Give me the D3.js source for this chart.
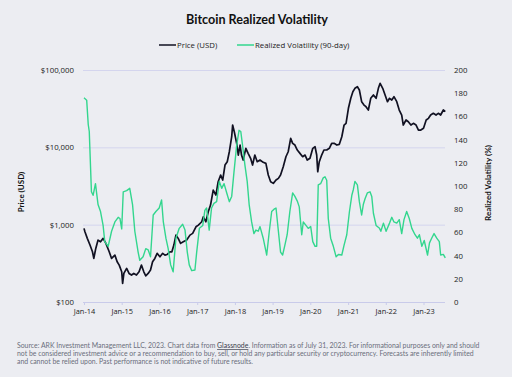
<!DOCTYPE html>
<html>
<head>
<meta charset="utf-8">
<script src="https://cdn.jsdelivr.net/npm/d3@7"></script>
<style>
  body { margin: 0; background: #ecedf2; }
  svg { display: block; font-family: "Open Sans", Lato, sans-serif; }
</style>
</head>
<body>
<script>
const priceDates = ["2014-01-01","2014-01-10","2014-02-02","2014-02-28","2014-03-24","2014-04-06","2014-04-25","2014-05-17","2014-06-10","2014-07-05","2014-08-01","2014-09-02","2014-09-25","2014-10-27","2014-11-18","2014-12-08","2015-01-01","2015-01-10","2015-01-22","2015-02-18","2015-03-13","2015-04-06","2015-04-28","2015-05-24","2015-06-18","2015-07-11","2015-08-03","2015-08-22","2015-09-14","2015-10-07","2015-10-27","2015-11-18","2015-12-10","2016-01-06","2016-02-02","2016-02-24","2016-03-16","2016-04-12","2016-05-01","2016-05-20","2016-06-09","2016-07-01","2016-07-24","2016-08-19","2016-09-21","2016-10-23","2016-11-18","2016-12-20","2017-01-12","2017-02-14","2017-03-01","2017-03-26","2017-04-18","2017-05-10","2017-06-05","2017-07-01","2017-07-23","2017-08-16","2017-09-05","2017-09-27","2017-10-19","2017-11-08","2017-12-01","2017-12-10","2017-12-26","2018-01-18","2018-02-03","2018-02-20","2018-03-06","2018-03-22","2018-04-17","2018-05-09","2018-06-02","2018-06-21","2018-07-13","2018-08-05","2018-09-01","2018-10-02","2018-10-28","2018-11-20","2018-12-13","2019-01-08","2019-02-03","2019-02-26","2019-03-19","2019-04-14","2019-05-10","2019-06-01","2019-06-25","2019-07-14","2019-08-05","2019-08-28","2019-09-23","2019-10-19","2019-11-11","2019-12-03","2019-12-29","2020-01-25","2020-02-16","2020-03-03","2020-03-13","2020-03-28","2020-04-20","2020-05-12","2020-06-08","2020-07-03","2020-07-26","2020-08-18","2020-09-14","2020-10-08","2020-11-01","2020-11-23","2020-12-12","2021-01-04","2021-01-27","2021-02-16","2021-03-08","2021-04-01","2021-04-20","2021-05-12","2021-06-04","2021-06-23","2021-07-16","2021-08-08","2021-09-03","2021-09-29","2021-10-21","2021-11-07","2021-12-02","2021-12-25","2022-01-17","2022-02-06","2022-02-28","2022-03-21","2022-04-17","2022-05-11","2022-06-04","2022-06-19","2022-07-16","2022-08-07","2022-09-01","2022-09-25","2022-10-21","2022-11-13","2022-12-06","2023-01-01","2023-01-27","2023-02-18","2023-03-11","2023-04-06","2023-05-02","2023-05-24","2023-06-16","2023-07-12","2023-07-31"]
const priceValues = [895,809,665,545,446,366,493,632,601,665,573,446,366,404,331,300,246,174,234,272,234,223,234,223,246,300,246,218,234,259,331,366,426,384,426,404,412,446,446,545,733,665,573,601,632,733,771,939,988,1091,1265,1091,1468,1793,2803,2415,3589,4383,3776,5902,6516,8770,13710,19430,15910,11270,7950,10710,7950,6850,9710,8360,7210,5902,7950,6516,6850,6400,6210,4383,3589,3420,3776,3970,4383,5610,7560,8770,13070,11270,10710,9230,8360,7560,7950,6850,7210,9710,10180,7950,4830,6516,7950,9230,9230,9710,11270,11270,10710,10930,13710,19430,20430,31950,43040,52400,57960,60800,55100,38900,35250,33500,30380,43040,47500,43040,57960,67300,57960,47500,38900,43040,40900,45150,38900,30380,26170,19430,22560,21440,19430,20430,19430,16740,16740,17620,22560,23720,26170,27540,26170,27540,26170,30380,28880]

const volDates = ["2014-01-01","2014-01-27","2014-02-11","2014-02-21","2014-03-14","2014-03-30","2014-04-22","2014-05-17","2014-06-10","2014-07-05","2014-07-21","2014-08-23","2014-09-25","2014-10-27","2014-11-28","2014-12-15","2015-01-01","2015-01-16","2015-02-18","2015-03-20","2015-04-16","2015-05-08","2015-06-09","2015-06-25","2015-07-27","2015-08-22","2015-09-14","2015-10-07","2015-11-02","2015-11-28","2015-12-30","2016-01-22","2016-02-08","2016-03-04","2016-03-26","2016-04-19","2016-05-13","2016-06-09","2016-07-11","2016-08-13","2016-09-05","2016-09-27","2016-10-16","2016-11-09","2016-12-10","2016-12-27","2017-01-22","2017-02-24","2017-03-16","2017-04-02","2017-04-27","2017-05-20","2017-06-12","2017-07-08","2017-08-03","2017-08-26","2017-09-18","2017-10-14","2017-11-08","2017-12-01","2017-12-23","2018-01-18","2018-02-10","2018-02-27","2018-03-16","2018-04-08","2018-04-30","2018-05-19","2018-06-12","2018-07-04","2018-07-23","2018-08-15","2018-09-01","2018-10-02","2018-11-05","2018-11-30","2018-12-23","2019-01-15","2019-02-03","2019-02-26","2019-03-19","2019-04-08","2019-04-30","2019-05-22","2019-06-17","2019-07-14","2019-08-05","2019-08-28","2019-09-16","2019-10-10","2019-10-25","2019-11-20","2019-12-12","2020-01-05","2020-01-25","2020-02-16","2020-03-03","2020-03-18","2020-04-10","2020-05-05","2020-05-22","2020-06-08","2020-06-23","2020-07-16","2020-08-11","2020-09-07","2020-09-29","2020-11-01","2020-11-23","2020-12-19","2021-01-14","2021-02-06","2021-02-21","2021-03-08","2021-04-01","2021-04-20","2021-05-12","2021-05-28","2021-06-14","2021-07-06","2021-08-01","2021-08-18","2021-09-03","2021-09-29","2021-11-01","2021-11-14","2021-12-09","2022-01-04","2022-02-06","2022-02-28","2022-03-21","2022-04-17","2022-05-11","2022-06-04","2022-06-26","2022-07-22","2022-08-16","2022-09-10","2022-10-11","2022-11-03","2022-11-22","2022-12-16","2023-01-08","2023-02-09","2023-02-28","2023-03-21","2023-04-13","2023-05-09","2023-06-03","2023-06-16","2023-07-12","2023-07-31"]
const volValues = [176,174,153,147,95,92,102,84,78,66,52,48,61,69,73,72,63,95,96,98,84,61,43,36,39,46,45,39,75,78,81,88,69,55,46,32,26,55,63.5,67,62,43,32,27,27.6,43,63.5,66,79,81,62,81,85,86.5,104,98,102,94,86.5,91,112,135,148,147,135,118,104,84,69,59,62,61,65,55,40.5,61,78,80,81,61,43,40.5,49,58,78,94,91,87,82,58,69,66,63.5,65,52,48,48,101,102,107,108,105,72,55,48,39,41,40.5,49,58,78,92,97,104,101,86.5,75,84,89,94,95,91,76.5,66,63.5,61,68,61,68,73,69,68,71,59,71,78,72,63.5,58,55,58,48,53,40.5,51,55,59,55,52,40.5,41,38]

const priceTicks = [100, 1000, 10000, 100000]
const volTicks = [0, 20, 40, 60, 80, 100, 120, 140, 160, 180, 200]
const yearTicks = ["2014-01-01","2015-01-01","2016-01-01","2017-01-01","2018-01-01","2019-01-01","2020-01-01","2021-01-01","2022-01-01","2023-01-01"]

const width = 512
const height = 377
const plotLeft = 83
const plotRight = 445
const plotTop = 70
const plotBottom = 302

const parse = d3.timeParse("%Y-%m-%d")
const priceData = priceDates.map((d, i) => ({ date: parse(d), value: priceValues[i] }))
const volData = volDates.map((d, i) => ({ date: parse(d), value: volValues[i] }))

const xScl = d3.scaleTime()
  .domain([parse("2014-01-01"), parse("2023-07-31")])
  .range([84, 445.3])

const priceScl = d3.scaleLog()
  .domain([100, 100000])
  .range([plotBottom, plotTop])

const volScl = d3.scaleLinear()
  .domain([0, 200])
  .range([plotBottom, plotTop])

const svg = d3.select("body")
  .append("svg")
  .attr("width", width)
  .attr("height", height)

svg.append("rect")
  .attr("width", width)
  .attr("height", height)
  .attr("fill", "#ecedf2")

// title + legend
svg.append("text")
  .attr("x", 257)
  .attr("y", 24)
  .attr("text-anchor", "middle")
  .attr("font-family", "Lato")
  .attr("font-size", "12.6px")
  .attr("font-weight", "bold")
  .attr("fill", "#111")
  .text("Bitcoin Realized Volatility")

const legend = [
  { name: "Price (USD)", color: "#111122", x: 159 },
  { name: "Realized Volatility (90-day)", color: "#33d68e", x: 237 }
]
const lg = svg.append("g").selectAll("g")
  .data(legend)
  .join("g")
  .attr("transform", d => `translate(${d.x},45)`)
lg.append("line")
  .attr("x1", 0).attr("x2", 17)
  .attr("stroke", d => d.color)
  .attr("stroke-width", 1.5)
lg.append("text")
  .attr("x", 18)
  .attr("dy", "0.35em")
  .attr("font-size", "7.8px")
  .attr("fill", "#222")
  .text(d => d.name)

// grid
const grid = svg.append("g")
  .attr("transform", `translate(${plotLeft},0)`)
  .call(d3.axisLeft(priceScl).tickValues(priceTicks).tickSize(-(plotRight - plotLeft)).tickFormat(""))
grid.select(".domain").remove()
grid.selectAll("line").attr("stroke", "#d4d5ee").attr("stroke-width", 1)

const yLeft = svg.append("g")
  .attr("transform", `translate(${plotLeft},0)`)
  .call(d3.axisLeft(priceScl).tickValues(priceTicks).tickSize(0).tickPadding(9)
    .tickFormat(d => "$" + d3.format(",")(d)))
yLeft.select(".domain").remove()
yLeft.selectAll("text").attr("font-size", "7.8px").attr("fill", "#222").attr("font-family", "Open Sans")

const yRight = svg.append("g")
  .attr("transform", `translate(${plotRight},0)`)
  .call(d3.axisRight(volScl).tickValues(volTicks).tickSize(0).tickPadding(9))
yRight.select(".domain").remove()
yRight.selectAll("text").attr("font-size", "7.8px").attr("fill", "#222").attr("font-family", "Open Sans")

const xAxis = svg.append("g")
  .attr("transform", `translate(0,${plotBottom})`)
  .call(d3.axisBottom(xScl).tickValues(yearTicks.map(parse)).tickSize(3).tickPadding(4)
    .tickFormat(d3.timeFormat("Jan-%y")))
xAxis.select(".domain").attr("d", `M${plotLeft},0.5H${plotRight}`).attr("stroke", "#c9cbea")
xAxis.selectAll("line").attr("stroke", "#c9cbea")
xAxis.selectAll("text").attr("font-size", "7.4px").attr("fill", "#222").attr("font-family", "Open Sans")

// axis titles
svg.append("text")
  .attr("transform", "translate(24,192) rotate(-90)")
  .attr("text-anchor", "middle")
  .attr("font-family", "Lato")
  .attr("font-size", "8px")
  .attr("font-weight", "bold")
  .attr("fill", "#111")
  .text("Price (USD)")

svg.append("text")
  .attr("transform", "translate(491,183) rotate(-90)")
  .attr("text-anchor", "middle")
  .attr("font-family", "Lato")
  .attr("font-size", "8px")
  .attr("font-weight", "bold")
  .attr("fill", "#111")
  .text("Realized Volatility (%)")

// lines
svg.append("path")
  .datum(priceData)
  .attr("fill", "none")
  .attr("stroke", "#111122")
  .attr("stroke-width", 1.7)
  .attr("stroke-linejoin", "round")
  .attr("d", d3.line().x(d => xScl(d.date)).y(d => priceScl(d.value)))

svg.append("path")
  .datum(volData)
  .attr("fill", "none")
  .attr("stroke", "#33d68e")
  .attr("stroke-width", 1.4)
  .attr("stroke-linejoin", "round")
  .attr("d", d3.line().x(d => xScl(d.date)).y(d => volScl(d.value)))

// footer
const foot = svg.append("text")
  .attr("font-family", "Lato")
  .attr("font-size", "6.9px")
  .attr("fill", "#6b6e7c")
foot.append("tspan").attr("x", 17).attr("y", 348)
  .text("Source: ARK Investment Management LLC, 2023. Chart data from ")
foot.append("tspan").attr("text-decoration", "underline").attr("fill", "#3a3d4c").text("Glassnode")
foot.append("tspan").text(". Information as of July 31, 2023. For informational purposes only and should")
foot.append("tspan").attr("x", 17).attr("y", 356)
  .text("not be considered investment advice or a recommendation to buy, sell, or hold any particular security or cryptocurrency. Forecasts are inherently limited")
foot.append("tspan").attr("x", 17).attr("y", 364)
  .text("and cannot be relied upon. Past performance is not indicative of future results.")
</script>
</body>
</html>
